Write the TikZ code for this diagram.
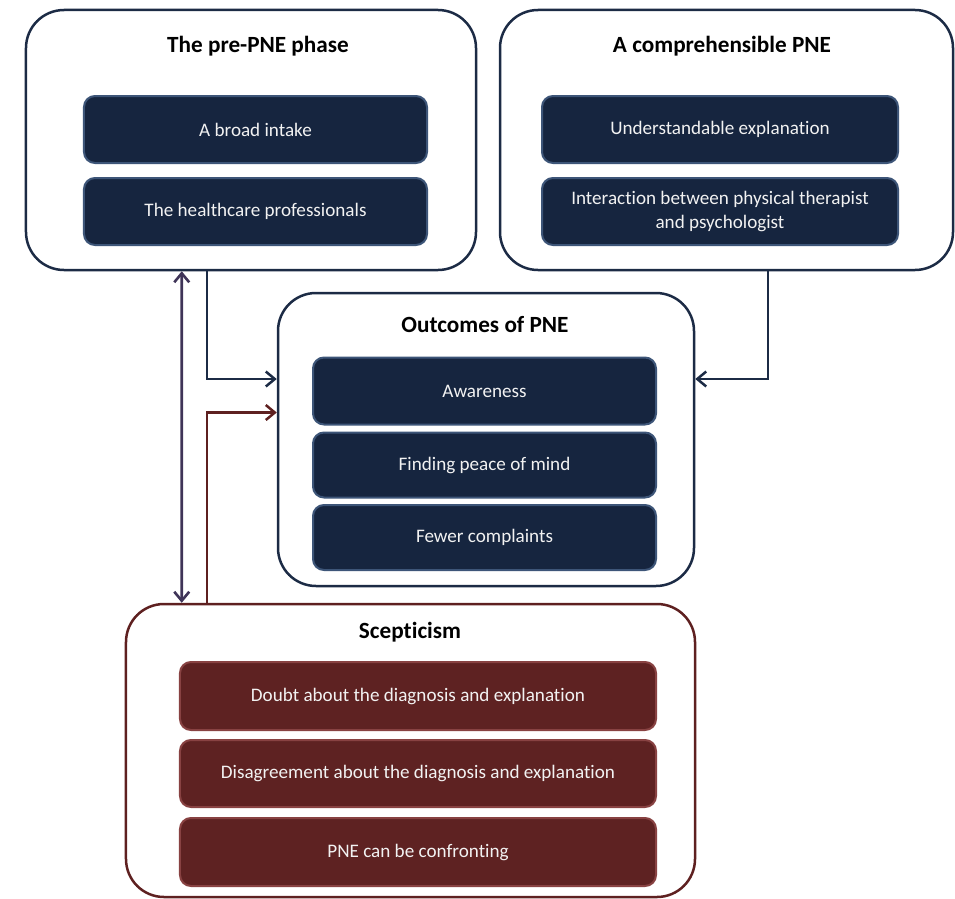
\documentclass[tikz,border=0pt]{standalone}
\usepackage{fontspec}
\setmainfont[Ligatures=NoCommon]{Carlito}
\usetikzlibrary{arrows.meta}

\definecolor{navyline}{HTML}{1C2B45}
\definecolor{navyfill}{HTML}{16253F}
\definecolor{navyedge}{HTML}{3D5578}
\definecolor{redline}{HTML}{5E2020}
\definecolor{redfill}{HTML}{5E2222}
\definecolor{rededge}{HTML}{884242}
\definecolor{purpline}{HTML}{3F3458}

\tikzset{
  groupbox/.style={draw=navyline, line width=2.5bp, rounded corners=38bp,
    fill=white, inner sep=0pt},
  scepbox/.style={groupbox, draw=redline},
  grouptitle/.style={font=\fontsize{23.3}{27}\selectfont\bfseries, text=black,
    inner sep=0pt},
  itembox/.style={draw=navyedge, fill=navyfill, line width=2bp,
    rounded corners=11bp, inner sep=0pt, text=white!95!black,
    font=\fontsize{19.2}{23.5}\selectfont, align=center},
  reditem/.style={itembox, draw=rededge, fill=redfill},
  link/.style={line width=2.5bp, draw=navyline,
    -{Straight Barb[length=9bp,width=15bp]}},
  redlink/.style={link, draw=redline},
  twoway/.style={line width=2.6bp, draw=purpline,
    {Straight Barb[length=9bp,width=15bp]}-{Straight Barb[length=9bp,width=15bp]}},
}

\begin{document}
\begin{tikzpicture}[x=1bp, y=-1bp]
\useasboundingbox (0,0) rectangle (955,899);

% The pre-PNE phase
\node[groupbox, minimum width=450bp, minimum height=260bp] (pre) at (251,140) {};
\node[grouptitle] (preT) at (258,46) {The pre-PNE phase};
\node[itembox, minimum width=343bp, minimum height=67bp] (intake) at (255.5,129.5) {A broad intake};
\node[itembox, minimum width=343bp, minimum height=67bp] (prof) at (255.5,211.5) {The healthcare professionals};

% A comprehensible PNE
\node[groupbox, minimum width=453bp, minimum height=260bp] (comp) at (726.5,140) {};
\node[grouptitle] (compT) at (722,46) {A comprehensible PNE};
\node[itembox, minimum width=356bp, minimum height=67bp] (under) at (720,129.5) {Understandable explanation};
\node[itembox, minimum width=356bp, minimum height=67bp] (inter) at (720,211.5) {Interaction between physical therapist\\and psychologist};

% Outcomes of PNE
\node[groupbox, minimum width=416bp, minimum height=293bp] (outc) at (486,439.5) {};
\node[grouptitle] (outcT) at (485,325) {Outcomes of PNE};
\node[itembox, minimum width=343bp, minimum height=67bp] (aware) at (484.5,391) {Awareness};
\node[itembox, minimum width=343bp, minimum height=65bp] (peace) at (484.5,465) {Finding peace of mind};
\node[itembox, minimum width=343bp, minimum height=65bp] (fewer) at (484.5,537.5) {Fewer complaints};

% Scepticism
\node[scepbox, minimum width=569bp, minimum height=293bp] (scep) at (410.5,750.5) {};
\node[grouptitle] (scepT) at (410,632) {Scepticism};
\node[reditem, minimum width=476bp, minimum height=68bp] (doubt) at (418,696) {Doubt about the diagnosis and explanation};
\node[reditem, minimum width=476bp, minimum height=67bp] (disag) at (418,773.5) {Disagreement about the diagnosis and explanation};
\node[reditem, minimum width=476bp, minimum height=68bp] (conf) at (418,852) {PNE can be confronting};

% Connectors
\draw[twoway] ([xshift=157bp]pre.south west) -- ([xshift=57bp]scep.north west);
\draw[link] ([xshift=182bp]pre.south west) |- ([yshift=60.5bp]outc.west);
\draw[link] ([xshift=269bp]comp.south west) |- ([yshift=60.5bp]outc.east);
\draw[redlink] ([xshift=82bp]scep.north west) |- ([yshift=27bp]outc.west);
\end{tikzpicture}
\end{document}
